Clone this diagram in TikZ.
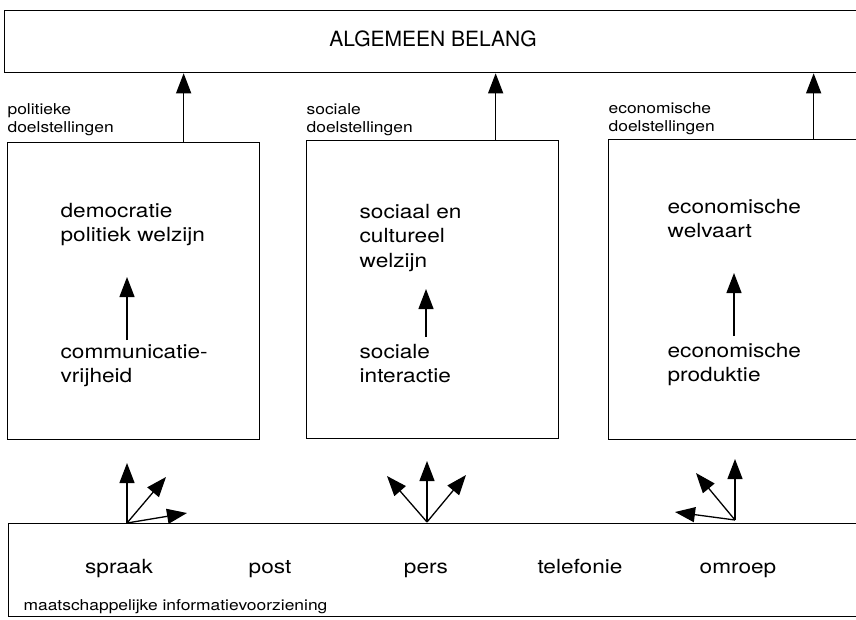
\documentclass[tikz,border=0pt]{standalone}
\usepackage{fontspec}
\setmainfont{TeX Gyre Heros}
\newfontfamily\widefont[FakeStretch=1.16]{TeX Gyre Heros}
\usetikzlibrary{arrows.meta}

\begin{document}
\begin{tikzpicture}[x=1pt, y=-1pt, line width=1.3pt,
  box/.style = {draw, line width=1.3pt, anchor=north west, inner sep=0pt},
  txt/.style = {anchor=base west, align=left, inner sep=0pt, font=\widefont\fontsize{19.5}{24.5}\selectfont},
  lbl/.style = {anchor=base west, align=left, inner sep=0pt, font=\widefont\fontsize{15}{17.5}\selectfont},
  med/.style = {anchor=base, inner sep=0pt, font=\widefont\fontsize{19.5}{24}\selectfont},
  up/.style = {-{Triangle[length=20pt, width=15pt]}, line width=1.3pt}]
  \useasboundingbox (0,0) rectangle (856,619);

  % boxes
  \node[box, minimum width=866pt, minimum height=62pt] (top) at (4,10) {};
  \node[font=\fontsize{21}{24}\selectfont, inner sep=0pt] (belang) at (433,39) {ALGEMEEN BELANG};
  \node[box, minimum width=252pt, minimum height=297pt] (pol) at (7,142) {};
  \node[box, minimum width=252pt, minimum height=298pt] (soc) at (306,140) {};
  \node[box, minimum width=262pt, minimum height=300pt] (eco) at (608,139) {};
  \node[box, minimum width=862pt, minimum height=93pt] (info) at (8,523) {};

  % labels
  \node[lbl] (lpol) at (7,132) {politieke\\doelstellingen};
  \node[lbl] (lsoc) at (306,132) {sociale\\doelstellingen};
  \node[lbl] (leco) at (608,131) {economische\\doelstellingen};
  \node[lbl] (linfo) at (23,610) {maatschappelijke informatievoorziening};

  \draw[up] ([xshift=50pt]pol.north) -- ([xshift=50pt]pol.north |- top.south);
  \draw[up] ([xshift=63pt]soc.north) -- ([xshift=63pt]soc.north |- top.south);
  \draw[up] ([xshift=74pt]eco.north) -- ([xshift=74pt]eco.north |- top.south);

  % inside the boxes
  \node[txt] (demo) at (60,241.5) {democratie\\politiek welzijn};
  \node[txt] (comm) at (60,382.5) {communicatie-\\vrijheid};
  \node[txt] (welz) at (359,267) {sociaal en\\cultureel\\welzijn};
  \node[txt] (inter) at (359,382.5) {sociale\\interactie};
  \node[txt] (welv) at (667,237.5) {economische\\welvaart};
  \node[txt] (prod) at (667,381.5) {economische\\produktie};

  \coordinate (a1) at (127,340); \coordinate (b1) at (127,277);
  \coordinate (a2) at (426,337); \coordinate (b2) at (426,289);
  \coordinate (a3) at (734,336); \coordinate (b3) at (734,273);
  \draw[up] (a1) -- (b1);
  \draw[up] (a2) -- (b2);
  \draw[up] (a3) -- (b3);

  % media
  \node[med] (spraak) at (119,573) {spraak};
  \node[med] (post) at (270,573) {post};
  \node[med] (pers) at (426,573) {pers};
  \node[med] (tel) at (580,573) {telefonie};
  \node[med] (omroep) at (738,573) {omroep};

  % fans
  \coordinate (f1) at (127,523);
  \coordinate (f1a) at (127,463); \coordinate (f1b) at (166,477); \coordinate (f1c) at (187,513);
  \coordinate (f2) at (427,522);
  \coordinate (f2a) at (427,461); \coordinate (f2b) at (387,476); \coordinate (f2c) at (466,475);
  \coordinate (f3) at (735,520);
  \coordinate (f3a) at (735,459); \coordinate (f3b) at (696,473); \coordinate (f3c) at (675,512);
  \foreach \f in {f1,f2,f3}
    \foreach \t in {a,b,c}
      \draw[up] (\f) -- (\f\t);
\end{tikzpicture}
\end{document}
